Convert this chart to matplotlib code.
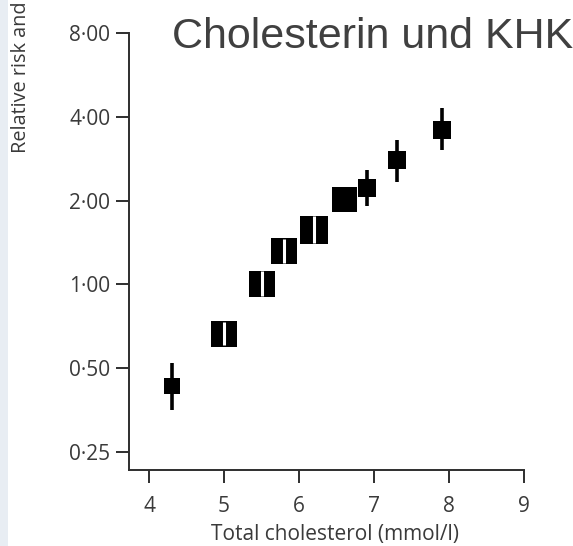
import matplotlib
matplotlib.use("Agg")
import matplotlib.pyplot as plt
from matplotlib.ticker import FixedLocator, FixedFormatter, NullLocator

# ---- data ----
cholesterol = [4.3, 5.0, 5.5, 5.8, 6.2, 6.6, 6.9, 7.3, 7.9]
relative_risk = [0.43, 0.663, 1.00, 1.32, 1.575, 2.02, 2.22, 2.79, 3.60]
ci_lower = [0.354, 0.605, 0.905, 1.19, 1.41, 1.85, 1.91, 2.33, 3.04]
ci_upper = [0.523, 0.735, 1.115, 1.46, 1.76, 2.20, 2.58, 3.30, 4.29]
box_px = [16, 27, 27, 27, 28, 25, 18, 18, 18]       # marker side in pixels
white_inner = [False, True, True, True, True, False, False, False, False]

y_ticks = [0.25, 0.5, 1, 2, 4, 8]
y_tick_labels = ["0·25", "0·50", "1·00", "2·00", "4·00", "8·00"]
x_ticks = [4, 5, 6, 7, 8, 9]
x_tick_labels = ["4", "5", "6", "7", "8", "9"]

title = "Cholesterin und KHK"
xlabel = "Total cholesterol (mmol/l)"
ylabel = "Relative risk and"

W, H, DPI = 573, 546, 100
fig = plt.figure(figsize=(W / DPI, H / DPI), dpi=DPI)
fig.patch.set_facecolor("white")

# light strip at the left edge
fig.patches.append(plt.Rectangle((0, 0), 8 / W, 1, transform=fig.transFigure,
                                 facecolor="#e8edf3", edgecolor="none", zorder=0))

ax = fig.add_axes([129 / W, 1 - 470 / H, (524 - 129) / W, (470 - 33) / H])
ax.set_yscale("log", base=2)
ax.set_xlim(3.733, 9.0)
ax.set_ylim(0.2155, 8.0)

dark = "#2e2e2e"
ax.vlines(cholesterol, ci_lower, ci_upper, color="black", lw=2.6, zorder=2)
pt = 72 / DPI
for x, y, s in zip(cholesterol, relative_risk, box_px):
    ax.plot([x], [y], marker="s", ms=s * pt, color="black", mew=0, zorder=3)
for x, lo, hi, w in zip(cholesterol, ci_lower, ci_upper, white_inner):
    if w:
        ax.vlines([x], [lo], [hi], color="white", lw=2.2, zorder=4)

for side in ["top", "right"]:
    ax.spines[side].set_visible(False)
for side in ["left", "bottom"]:
    ax.spines[side].set_color(dark)
    ax.spines[side].set_linewidth(1.4)

fam = ["Open Sans", "DejaVu Sans"]
txt_color = "#3a3a3a"
ax.yaxis.set_major_locator(FixedLocator(y_ticks))
ax.yaxis.set_major_formatter(FixedFormatter(y_tick_labels))
ax.yaxis.set_minor_locator(NullLocator())
ax.xaxis.set_major_locator(FixedLocator(x_ticks))
ax.xaxis.set_major_formatter(FixedFormatter(x_tick_labels))
ax.tick_params(axis="both", direction="out", length=9.5, width=1.4, color=dark)
ax.tick_params(axis="y", pad=4)
ax.tick_params(axis="x", pad=9)
for lab in ax.get_xticklabels() + ax.get_yticklabels():
    lab.set_fontfamily(fam)
    lab.set_fontsize(15)
    lab.set_color(txt_color)

ax.set_xlabel(xlabel, fontfamily=fam, fontsize=15, color=txt_color, labelpad=5)
ax.xaxis.label.set_x((335 - 129) / (524 - 129))

fig.text(21 / W, 1 - 153 / H, ylabel, rotation=90, ha="center", va="bottom",
         fontfamily=fam, fontsize=14.3, color=txt_color)

fig.text(172 / W, 1 - 37 / H, title, ha="left", va="center",
         fontfamily=["Liberation Sans", "DejaVu Sans"], fontsize=31, color="#404040")

fig.savefig("out.png", dpi=DPI)
